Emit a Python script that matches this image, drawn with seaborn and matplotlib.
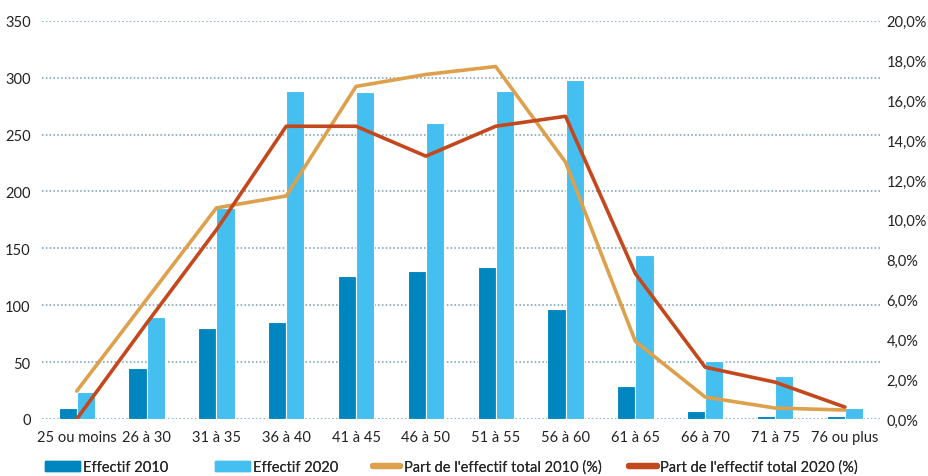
import pandas as pd
import matplotlib.pyplot as plt
import matplotlib.ticker as mticker
from matplotlib.patches import Patch
from matplotlib.lines import Line2D
import seaborn as sns

# Age groups and values
categories = ['25 ou moins', '26 à 30', '31 à 35', '36 à 40', '41 à 45', '46 à 50',
              '51 à 55', '56 à 60', '61 à 65', '66 à 70', '71 à 75', '76 ou plus']
effectif_2010 = [10, 45, 80, 85, 126, 130, 134, 97, 29, 7, 3, 3]
effectif_2020 = [24, 90, 185, 288, 287, 260, 288, 298, 144, 51, 38, 10]
part_2010 = [1.4, 6.0, 10.6, 11.2, 16.7, 17.3, 17.7, 12.9, 3.9, 1.1, 0.55, 0.45]
part_2020 = [0.0, 4.8, 9.5, 14.7, 14.7, 13.2, 14.7, 15.2, 7.3, 2.6, 1.85, 0.6]

c2010_bar = '#0086BF'
c2020_bar = '#44BFEF'
c2010_line = '#DDA04C'
c2020_line = '#C4481D'
grid_color = '#6F9AB5'

sns.set_theme(style='white')
plt.rcParams['font.family'] = ['Lato', 'DejaVu Sans']

bars = pd.DataFrame({
    'categorie': categories * 2,
    'effectif': effectif_2010 + effectif_2020,
    'serie': ['Effectif 2010'] * 12 + ['Effectif 2020'] * 12,
})

fig = plt.figure(figsize=(9.29, 4.77), dpi=100)
ax = fig.add_axes([0.045, 0.1195, 0.902, 0.835])

sns.barplot(data=bars, x='categorie', y='effectif', hue='serie', order=categories,
            palette=[c2010_bar, c2020_bar], width=0.52, edgecolor='white',
            linewidth=0.8, saturation=1, legend=False, ax=ax)
ax.set_ylim(0, 350)
ax.set_xlim(-0.5, 11.5)
ax.set_yticks(range(0, 351, 50))
ax.yaxis.grid(True, linestyle=(0, (1, 1.5)), color=grid_color, linewidth=1.1)
ax.set_axisbelow(True)
ax.set_xlabel('')
ax.set_ylabel('')
for s in ax.spines.values():
    s.set_visible(False)
ax.tick_params(axis='both', length=0, labelsize=10.5, colors='#222222')
ax.tick_params(axis='y', pad=8)
ax.tick_params(axis='x', pad=8)

ax2 = ax.twinx()
sns.lineplot(x=categories, y=part_2010, color=c2010_line, linewidth=2.6, sort=False, ax=ax2)
sns.lineplot(x=categories, y=part_2020, color=c2020_line, linewidth=2.6, sort=False, ax=ax2)
ax2.set_ylim(0, 20)
ax2.set_yticks(range(0, 21, 2))
ax2.yaxis.set_major_formatter(mticker.FuncFormatter(lambda v, p: f'{v:.1f}'.replace('.', ',') + '%'))
ax2.grid(False)
for s in ax2.spines.values():
    s.set_visible(False)
ax2.tick_params(axis='y', length=0, labelsize=10.5, colors='#222222', pad=5)
ax2.set_xlim(-0.5, 11.5)

# legend entries placed one by one, like the original
entries = [
    (Patch(color=c2010_bar, label='Effectif 2010'), 0.048, 2.4),
    (Patch(color=c2020_bar, label='Effectif 2020'), 0.231, 2.4),
    (Line2D([], [], color=c2010_line, linewidth=4.5, label="Part de l'effectif total 2010 (%)"), 0.401, 1.9),
    (Line2D([], [], color=c2020_line, linewidth=4.5, label="Part de l'effectif total 2020 (%)"), 0.677, 1.9),
]
for h, xpos, hl in entries:
    leg = fig.legend(handles=[h], loc='center left', bbox_to_anchor=(xpos, 0.019),
                     frameon=False, fontsize=10.5, handlelength=hl, handleheight=0.75,
                     handletextpad=0.25, borderpad=0, borderaxespad=0)
    fig.add_artist(leg)

fig.savefig('out.png', dpi=100)
